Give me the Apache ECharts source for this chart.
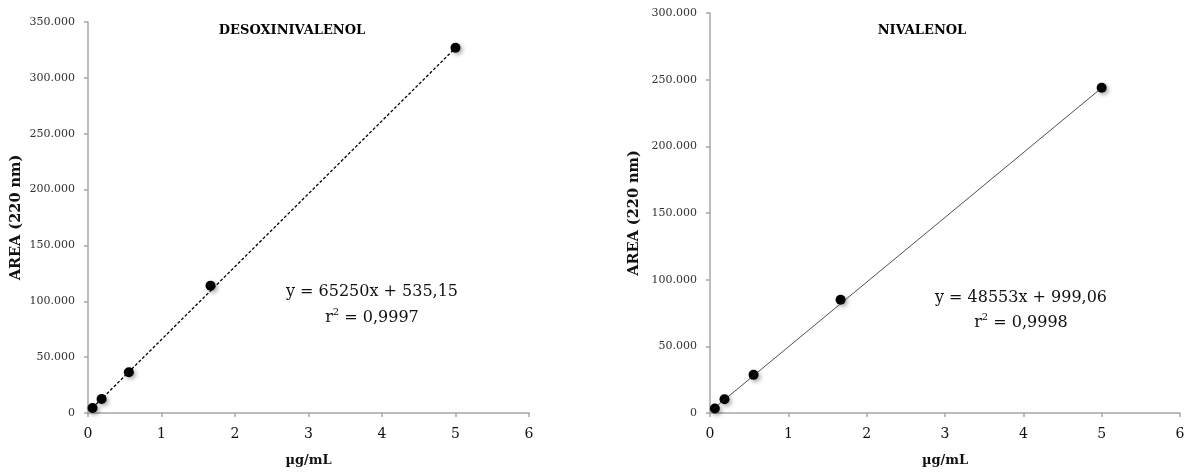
<!DOCTYPE html>
<html>
<head>
<meta charset="utf-8">
<script src="https://cdn.jsdelivr.net/npm/echarts@6/dist/echarts.min.js"></script>
<style>
html,body{margin:0;padding:0;background:#fff;}
#chart{width:1191px;height:474px;}
</style>
</head>
<body>
<div id="chart"></div>
<script>
// Concentrations (µg/mL)
const concX = [0.0617, 0.185, 0.556, 1.667, 5];
// DESOXINIVALENOL areas
const donY = [4500, 12500, 36500, 114000, 327000];
// NIVALENOL areas
const nivY = [3400, 10300, 28600, 85000, 244000];
// Trendline endpoints (as drawn, from first to last point)
const donTrendX = [0.0617, 5];
const donTrendY = [4560, 326800];
const nivTrendX = [0.0617, 5];
const nivTrendY = [4000, 243800];
// Texts
const titles = ['DESOXINIVALENOL', 'NIVALENOL'];
const eqLines = [['y = 65250x + 535,15', '0,9997'], ['y = 48553x + 999,06', '0,9998']];
const xTicks = [0, 1, 2, 3, 4, 5, 6];
const yMaxes = [350000, 300000];

const serif = 'DejaVu Serif';
function fmt(v) {
  return String(v).replace(/\B(?=(\d{3})+(?!\d))/g, '.');
}
function pairs(xs, ys) { return xs.map((x, i) => [x, ys[i]]); }

const chart = echarts.init(document.getElementById('chart'));

const axisLineStyle = {show: true, lineStyle: {color: '#a6a6a6', width: 1.5}};
const tick = {show: true, inside: false, length: 4, lineStyle: {color: '#a6a6a6', width: 1.5}};

function xAxis(gi) {
  return {
    type: 'value', gridIndex: gi, min: xTicks[0], max: xTicks[xTicks.length - 1], interval: 1,
    axisLine: axisLineStyle, axisTick: tick, splitLine: {show: false},
    axisLabel: {fontFamily: serif, fontSize: 14, color: '#111', margin: 14},
    name: 'µg/mL', nameLocation: 'middle', nameGap: 41,
    nameTextStyle: {fontFamily: serif, fontSize: 13, fontWeight: 'bold', color: '#111'}
  };
}
function yAxis(gi, max, gap) {
  return {
    type: 'value', gridIndex: gi, min: 0, max: max, interval: 50000,
    axisLine: axisLineStyle, axisTick: tick, splitLine: {show: false},
    axisLabel: {fontFamily: serif, fontSize: 11, color: '#333', margin: 13, formatter: fmt},
    name: 'AREA (220 nm)', nameLocation: 'middle', nameRotate: 90, nameGap: gap,
    nameTextStyle: {fontFamily: serif, fontSize: 14.5, fontWeight: 'bold', color: '#111'}
  };
}
const pointStyle = {color: '#000', opacity: 1, shadowColor: 'rgba(0,0,0,0.35)', shadowBlur: 4, shadowOffsetX: 2, shadowOffsetY: 2};

function eqGraphic(cx, y1, y2, lines) {
  return [
    {type: 'text', x: cx, y: y1, style: {text: lines[0], fontFamily: serif, fontSize: 16, fill: '#111', textAlign: 'center', textVerticalAlign: 'middle'}},
    {type: 'text', x: cx, y: y2, style: {
      text: '{a|r}{s|2}{a| = ' + lines[1] + '}', textAlign: 'center', textVerticalAlign: 'middle',
      rich: {a: {fontFamily: serif, fontSize: 16, fill: '#111', color: '#111'},
             s: {fontFamily: serif, fontSize: 10, color: '#111', verticalAlign: 'top', padding: [0, 0, 12, 0]}}
    }}
  ];
}

chart.setOption({
  animation: false,
  grid: [
    {left: 88, top: 22, width: 441, height: 391},
    {left: 710, top: 13, width: 470, height: 400}
  ],
  xAxis: [xAxis(0), xAxis(1)],
  yAxis: [yAxis(0, yMaxes[0], 64), yAxis(1, yMaxes[1], 68)],
  series: [
    {type: 'line', xAxisIndex: 0, yAxisIndex: 0, data: pairs(donTrendX, donTrendY), showSymbol: false,
     lineStyle: {color: '#000', width: 1.3, type: [3, 2]}, silent: true},
    {type: 'scatter', xAxisIndex: 0, yAxisIndex: 0, data: pairs(concX, donY), symbolSize: 10, itemStyle: pointStyle},
    {type: 'line', xAxisIndex: 1, yAxisIndex: 1, data: pairs(nivTrendX, nivTrendY), showSymbol: false,
     lineStyle: {color: '#222', width: 0.8}, silent: true},
    {type: 'scatter', xAxisIndex: 1, yAxisIndex: 1, data: pairs(concX, nivY), symbolSize: 10, itemStyle: pointStyle}
  ],
  graphic: [
    {type: 'text', x: 292, y: 31, style: {text: titles[0], fontFamily: serif, fontSize: 13, fontWeight: 'bold', fill: '#000', textAlign: 'center', textVerticalAlign: 'middle'}},
    {type: 'text', x: 922, y: 31, style: {text: titles[1], fontFamily: serif, fontSize: 13, fontWeight: 'bold', fill: '#000', textAlign: 'center', textVerticalAlign: 'middle'}}
  ].concat(eqGraphic(372, 292, 318, eqLines[0]), eqGraphic(1021, 298, 323, eqLines[1]))
});
</script>
</body>
</html>
